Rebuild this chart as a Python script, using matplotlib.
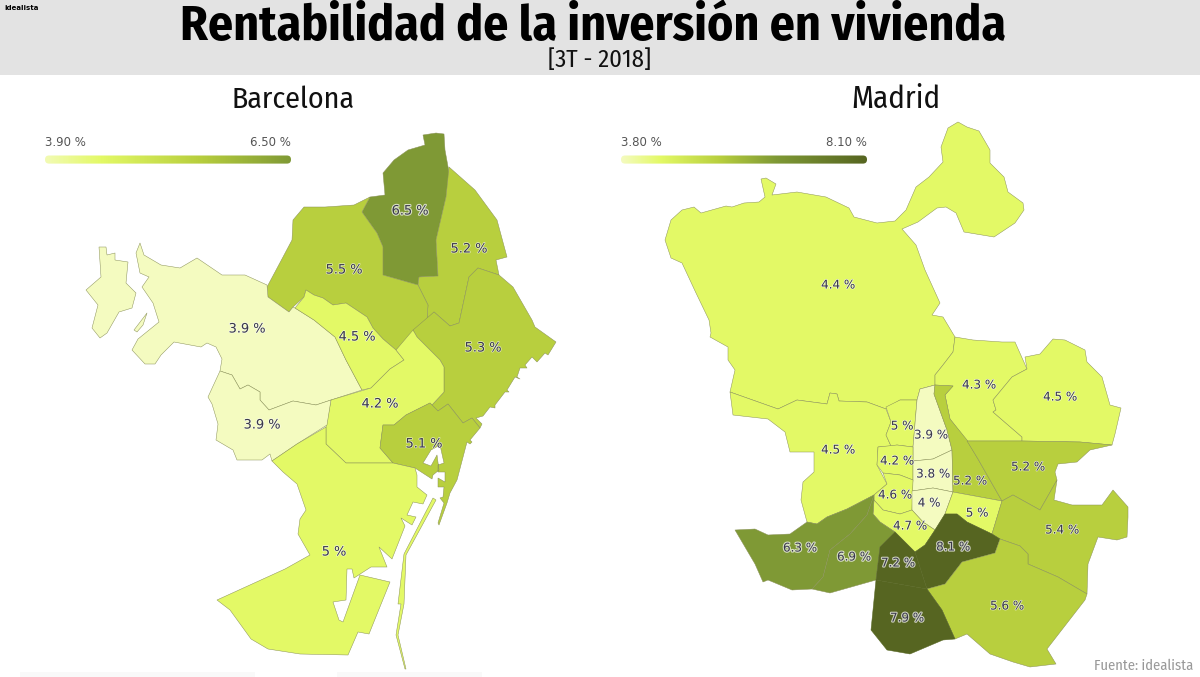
import matplotlib
matplotlib.use("Agg")
import matplotlib.pyplot as plt
import matplotlib.patheffects as pe
from matplotlib.colors import LinearSegmentedColormap
from matplotlib.patches import FancyBboxPatch, Rectangle
import numpy as np

HEAD_FONT = ['Fira Sans Condensed', 'Roboto Condensed', 'Liberation Sans', 'DejaVu Sans']
LABEL_FONT = ['DejaVu Sans']
plt.rcParams['font.family'] = HEAD_FONT

# --- values shown on the map
bcn_districts = ['Nou Barris', 'Sant Andreu', 'Horta', 'Sarria', 'Gracia', 'Sant Marti', 'Eixample', 'Les Corts', 'Ciutat Vella', 'Sants']
bcn_values = [6.5, 5.2, 5.5, 3.9, 4.5, 5.3, 4.2, 3.9, 5.1, 5]
mad_districts = ['Fuencarral', 'Hortaleza', 'Barajas', 'Moncloa', 'Chamberi', 'Chamartin', 'Centro', 'Salamanca',
                 'Retiro', 'San Blas', 'Arganzuela', 'Pacifico', 'Moratalaz', 'Vicalvaro', 'Delicias', 'Latina',
                 'Carabanchel', 'Usera', 'Puente Vallecas', 'Villa Vallecas', 'Villaverde']
mad_values = [4.4, 4.3, 4.5, 4.5, 5, 3.9, 4.2, 3.8, 5.2, 5.2, 4.6, 4, 5, 5.4, 4.7, 6.3, 6.9, 7.2, 8.1, 5.6, 7.9]

# --- district outlines, traced in picture pixels
bcn_shapes = {
    'Nou Barris': [[(423,135),(436,133),(444,134),(445,150),(449,172),(446,197),(436,240),(438,276),(419,277),(418,285),(383,275),(383,247),(377,233),(362,212),(370,197),(385,195),(383,173),(394,160),(408,150),(425,145)]],
    'Sant Andreu': [[(449,167),(475,190),(497,220),(507,257),(496,260),(499,275),(478,268),(469,277),(459,323),(450,326),(434,312),(427,320),(428,305),(418,285),(419,277),(438,276),(436,240),(446,197)]],
    'Horta': [[(304,207),(325,207),(354,205),(370,197),(362,212),(377,233),(383,247),(383,275),(418,285),(428,305),(427,320),(406,340),(396,350),(383,339),(373,328),(367,317),(346,303),(333,305),(323,298),(314,295),(306,290),(304,297),(293,307),(289,312),(268,297),(267,287),(283,257),(292,240),(293,220)]],
    'Sarria': [[(136,253),(140,243),(144,255),(161,265),(180,268),(197,258),(222,275),(245,275),(267,285),(268,297),(289,312),(293,307),(295,308),(314,320),(335,337),(346,360),(362,390),(331,400),(316,405),(293,401),(269,410),(260,400),(260,392),(248,385),(240,389),(232,375),(220,371),(222,359),(216,347),(207,343),(201,347),(174,342),(161,355),(155,364),(145,364),(132,350),(138,339),(159,322),(153,303),(142,287),(149,277),(140,273)],
               [(134,330),(147,313),(143,325),(137,332)],
               [(99,247),(106,247),(107,255),(115,253),(115,260),(128,262),(126,283),(136,293),(132,308),(119,312),(107,333),(100,338),(92,328),(98,305),(86,290),(101,277)]],
    'Gracia': [[(306,290),(314,295),(323,298),(333,305),(346,303),(367,317),(373,328),(383,339),(396,350),(404,360),(390,369),(371,388),(362,390),(346,360),(335,337),(314,320),(295,308),(304,297)]],
    'Sant Marti': [[(434,312),(450,326),(459,323),(469,277),(478,268),(499,275),(513,287),(532,320),(535,327),(556,342),(548,355),(545,353),(537,362),(532,357),(525,365),(527,368),(520,368),(517,377),(520,379),(515,377),(507,390),(509,392),(505,392),(495,405),(495,408),(490,407),(483,416),(476,418),(482,424),(480,428),(472,418),(463,423),(448,404),(438,411),(432,405),(444,392),(444,367),(440,360),(417,337),(413,330)]],
    'Eixample': [[(396,350),(413,330),(417,337),(440,360),(444,367),(444,392),(432,405),(430,403),(406,415),(394,425),(383,425),(380,448),(393,463),(346,463),(326,444),(326,427),(331,400),(371,388),(390,369),(404,360)]],
    'Les Corts': [[(220,371),(232,375),(240,389),(248,385),(260,392),(260,400),(269,410),(293,401),(316,405),(331,400),(327,425),(297,444),(272,461),(270,454),(262,460),(237,460),(233,450),(216,440),(218,424),(212,404),(208,397)]],
    'Ciutat Vella': [[(430,403),(438,411),(448,404),(463,423),(472,418),(480,428),(470,440),(472,442),(470,444),(467,442),(457,480),(450,493),(447,503),(439,525),(438,523),(444,503),(440,498),(443,497),(444,487),(438,487),(438,478),(445,482),(445,472),(438,472),(438,465),(444,463),(440,445),(431,450),(423,463),(431,466),(437,455),(439,470),(433,475),(432,479),(415,468),(393,463),(380,448),(383,425),(394,425),(406,415)]],
    'Sants': [[(272,461),(297,444),(326,427),(326,444),(346,463),(393,463),(415,468),(417,475),(417,487),(427,495),(423,504),(413,502),(407,515),(416,517),(412,525),(401,518),(405,526),(392,559),(379,547),(387,567),(371,567),(354,578),(352,569),(347,569),(346,600),(333,602),(339,620),(343,622),(360,575),(390,582),(369,634),(358,632),(348,655),(300,654),(268,649),(251,639),(230,610),(217,600),(285,569),(310,555),(298,534),(300,519),(306,510),(297,484),(283,472)],
              [(433,498),(436,500),(406,555),(404,604),(398,635),(406,669),(405,669),(396,635),(401,604),(398,604),(404,554)]],
}
mad_shapes = {
    'Fuencarral': [[(761,179),(766,178),(776,184),(772,195),(797,192),(826,197),(849,208),(854,217),(877,223),(895,221),(906,210),(916,187),(929,177),(943,162),(941,147),(948,128),(958,122),(967,127),(979,131),(990,150),(990,163),(1004,177),(1008,192),(1023,203),(1024,210),(1015,223),(994,237),(964,232),(956,213),(946,207),(937,208),(918,222),(902,229),(916,245),(925,270),(940,303),(932,315),(943,317),(955,337),(953,352),(943,365),(935,375),(935,385),(920,389),(917,400),(900,400),(886,409),(867,402),(839,401),(837,394),(830,393),(827,404),(797,400),(778,409),(730,392),(735,370),(728,360),(728,347),(710,337),(711,333),(709,320),(696,293),(682,263),(671,258),(665,240),(671,220),(682,210),(694,207),(701,213),(726,206),(732,207),(744,203),(759,202),(765,197)]],
    'Hortaleza': [[(955,337),(973,340),(1002,342),(1015,342),(1027,369),(1012,377),(993,400),(996,410),(993,412),(1022,437),(1022,441),(967,441),(950,419),(945,395),(953,386),(935,385),(935,375),(943,365),(953,352)]],
    'Barajas': [[(1027,369),(1025,357),(1040,354),(1053,339),(1065,340),(1085,350),(1087,362),(1102,377),(1110,405),(1121,408),(1115,434),(1112,445),(1080,442),(1022,441),(1022,437),(993,412),(996,410),(993,400),(1012,377)]],
    'Moncloa': [[(730,392),(778,409),(797,400),(827,404),(830,393),(837,394),(839,401),(867,402),(886,409),(891,422),(886,435),(891,446),(878,447),(877,465),(887,484),(874,495),(847,509),(827,517),(817,524),(807,522),(801,500),(803,482),(814,472),(814,452),(790,452),(785,432),(768,419),(733,415)]],
    'Chamberi': [[(886,407),(900,400),(917,400),(913,447),(897,445),(891,446),(886,435),(891,422)]],
    'Chamartin': [[(920,389),(935,385),(934,394),(947,430),(952,450),(933,459),(913,461),(913,447),(917,400)]],
    'Centro': [[(878,447),(897,445),(913,447),(913,480),(900,475),(883,473),(877,465)]],
    'Salamanca': [[(913,461),(933,459),(952,450),(953,492),(933,488),(912,491),(913,480)]],
    'Retiro': [[(935,385),(953,386),(945,395),(950,419),(967,440),(978,459),(1002,501),(953,492),(952,450),(947,430),(934,394)]],
    'San Blas': [[(967,441),(1022,441),(1080,442),(1112,445),(1090,450),(1077,462),(1058,464),(1055,472),(1057,480),(1040,510),(1013,495),(1002,501),(978,459)]],
    'Arganzuela': [[(883,473),(900,475),(913,480),(912,510),(900,514),(883,510),(874,500),(874,495),(887,484)]],
    'Pacifico': [[(912,491),(933,488),(953,492),(945,514),(935,530),(923,522),(912,510)]],
    'Moratalaz': [[(953,492),(1002,501),(992,534),(967,522),(957,514),(945,514)]],
    'Vicalvaro': [[(1002,501),(1013,495),(1040,510),(1057,480),(1054,500),(1072,505),(1102,505),(1113,490),(1128,507),(1128,517),(1127,537),(1117,540),(1098,537),(1088,564),(1087,594),(1058,577),(1028,564),(1028,554),(1020,546),(1000,539),(992,534)]],
    'Delicias': [[(874,500),(883,510),(900,514),(912,510),(923,522),(935,530),(925,545),(915,552),(895,532),(880,522),(873,514)]],
    'Latina': [[(735,530),(755,529),(768,535),(790,534),(807,522),(817,524),(827,517),(847,509),(874,495),(867,515),(850,534),(830,550),(823,577),(812,589),(792,590),(768,580),(763,582),(755,564)]],
    'Carabanchel': [[(874,495),(874,500),(873,514),(880,522),(895,532),(880,547),(876,580),(830,593),(812,589),(823,577),(830,550),(850,534),(867,515)]],
    'Usera': [[(895,532),(915,552),(927,589),(876,580),(880,547)]],
    'Puente Vallecas': [[(935,530),(945,514),(957,514),(967,522),(992,534),(1000,539),(995,553),(962,562),(945,584),(927,589),(915,552),(925,545)]],
    'Villa Vallecas': [[(1000,539),(1020,546),(1028,554),(1028,564),(1058,577),(1087,594),(1085,600),(1047,649),(1056,664),(1030,667),(1013,662),(990,654),(967,634),(955,639),(942,610),(927,589),(945,584),(962,562),(995,553)]],
    'Villaverde': [[(876,580),(927,589),(942,610),(955,639),(943,640),(910,654),(887,650),(871,630)]],
}

# --- label anchors, in picture pixels
bcn_label_xy = [(410,211),(469,249),(344,270),(247,329),(357,337),(483,348),(380,404),(262,425),(424,444),(334,552)]
mad_label_xy = [(838,285),(979,385),(1060,397),(838,450),(902,426),(931,435),(897,461),(933,474),(970,481),(1028,467),
                (895,495),(929,503),(977,513),(1062,530),(910,526),(800,548),(854,557),(898,563),(953,547),(1007,606),(907,618)]

# --- colours
bin_edges = [4.1, 5.05, 6, 7]
bin_colors = ['#f4fbc0', '#e3f966', '#b8cf3e', '#7f9935', '#566521']
ramp = LinearSegmentedColormap.from_list('ramp', [(0, '#f4fbc0'), (0.16, '#e3f966'), (0.4, '#b8cf3e'), (0.63, '#7f9935'), (1, '#566521')])
ramp_lo, ramp_hi = 3.8, 8.1

fig = plt.figure(figsize=(12, 6.77), dpi=100)
ax = fig.add_axes([0, 0, 1, 1])
ax.set_xlim(0, 1200)
ax.set_ylim(677, 0)
ax.set_axis_off()


# the fonts may differ between machines, so size the headings by the width they must fill
def fit_text(txt, width_px):
    w = txt.get_window_extent(fig.canvas.get_renderer()).width
    txt.set_fontsize(txt.get_fontsize() * width_px / w)


# header band and faint strips at the bottom edge
ax.add_patch(Rectangle((0, 0), 1200, 75, color='#e3e3e3', lw=0))
ax.add_patch(Rectangle((20, 672), 235, 5, color='#f9f9f9', lw=0))
ax.add_patch(Rectangle((337, 672), 145, 5, color='#f9f9f9', lw=0))

fit_text(ax.text(4, 8, 'idealista', fontsize=7, fontweight='bold', family=LABEL_FONT, va='center', color='black'), 34)
fit_text(ax.text(593, 40, 'Rentabilidad de la inversión en vivienda', fontsize=40, fontweight='bold', ha='center', va='baseline', color='black'), 827)
fit_text(ax.text(600, 67, '[3T - 2018]', fontsize=19, ha='center', va='baseline', color='#111111'), 103)
fit_text(ax.text(293, 108, 'Barcelona', fontsize=26, ha='center', va='baseline', color='#111111'), 123)
fit_text(ax.text(896, 108, 'Madrid', fontsize=26, ha='center', va='baseline', color='#111111'), 89)
ax.text(1193, 666, 'Fuente: idealista', fontsize=10.5, ha='right', va='center', color='#999999')


def draw_map(shapes, districts, values, label_xy, size):
    for name, val in zip(districts, values):
        color = bin_colors[np.digitize(val, bin_edges)]
        # borders vanish inside the darkest districts
        edge = color if val > 7 else '#8a9158'
        for poly in shapes[name]:
            px, py = zip(*poly)
            ax.fill(px, py, facecolor=color, edgecolor=edge, lw=0.35, joinstyle='round')
    for val, xy in zip(values, label_xy):
        halo = 1.6 if val > 6 else 1.0
        ax.text(xy[0], xy[1], f'{val:g} %', fontsize=size, family=LABEL_FONT, ha='center', va='center', color='#3a3a4a',
                path_effects=[pe.withStroke(linewidth=halo, foreground='white', alpha=0.7)])


def draw_scale(x0, x1, lo, hi):
    grad = np.linspace(lo, hi, 256).reshape(1, -1)
    im = ax.imshow(grad, extent=(x0, x1, 164, 155), cmap=ramp, vmin=ramp_lo, vmax=ramp_hi, aspect='auto', zorder=3)
    box = FancyBboxPatch((x0 + 4, 159.5), x1 - x0 - 8, 0.1, boxstyle='round,pad=4,rounding_size=4',
                         facecolor='none', edgecolor='none')
    ax.add_patch(box)
    im.set_clip_path(box)
    for x, val, ha in [(x0, lo, 'left'), (x1, hi, 'right')]:
        ax.text(x, 142, f'{val:.2f} %', fontsize=8.5, family=LABEL_FONT, ha=ha, va='center', color='#555555')


draw_map(bcn_shapes, bcn_districts, bcn_values, bcn_label_xy, 9.3)
draw_map(mad_shapes, mad_districts, mad_values, mad_label_xy, 8.6)
draw_scale(45, 291, min(bcn_values), max(bcn_values))
draw_scale(621, 867, min(mad_values), max(mad_values))
ax.set_xlim(0, 1200)
ax.set_ylim(677, 0)

fig.savefig('out.png', dpi=100)
